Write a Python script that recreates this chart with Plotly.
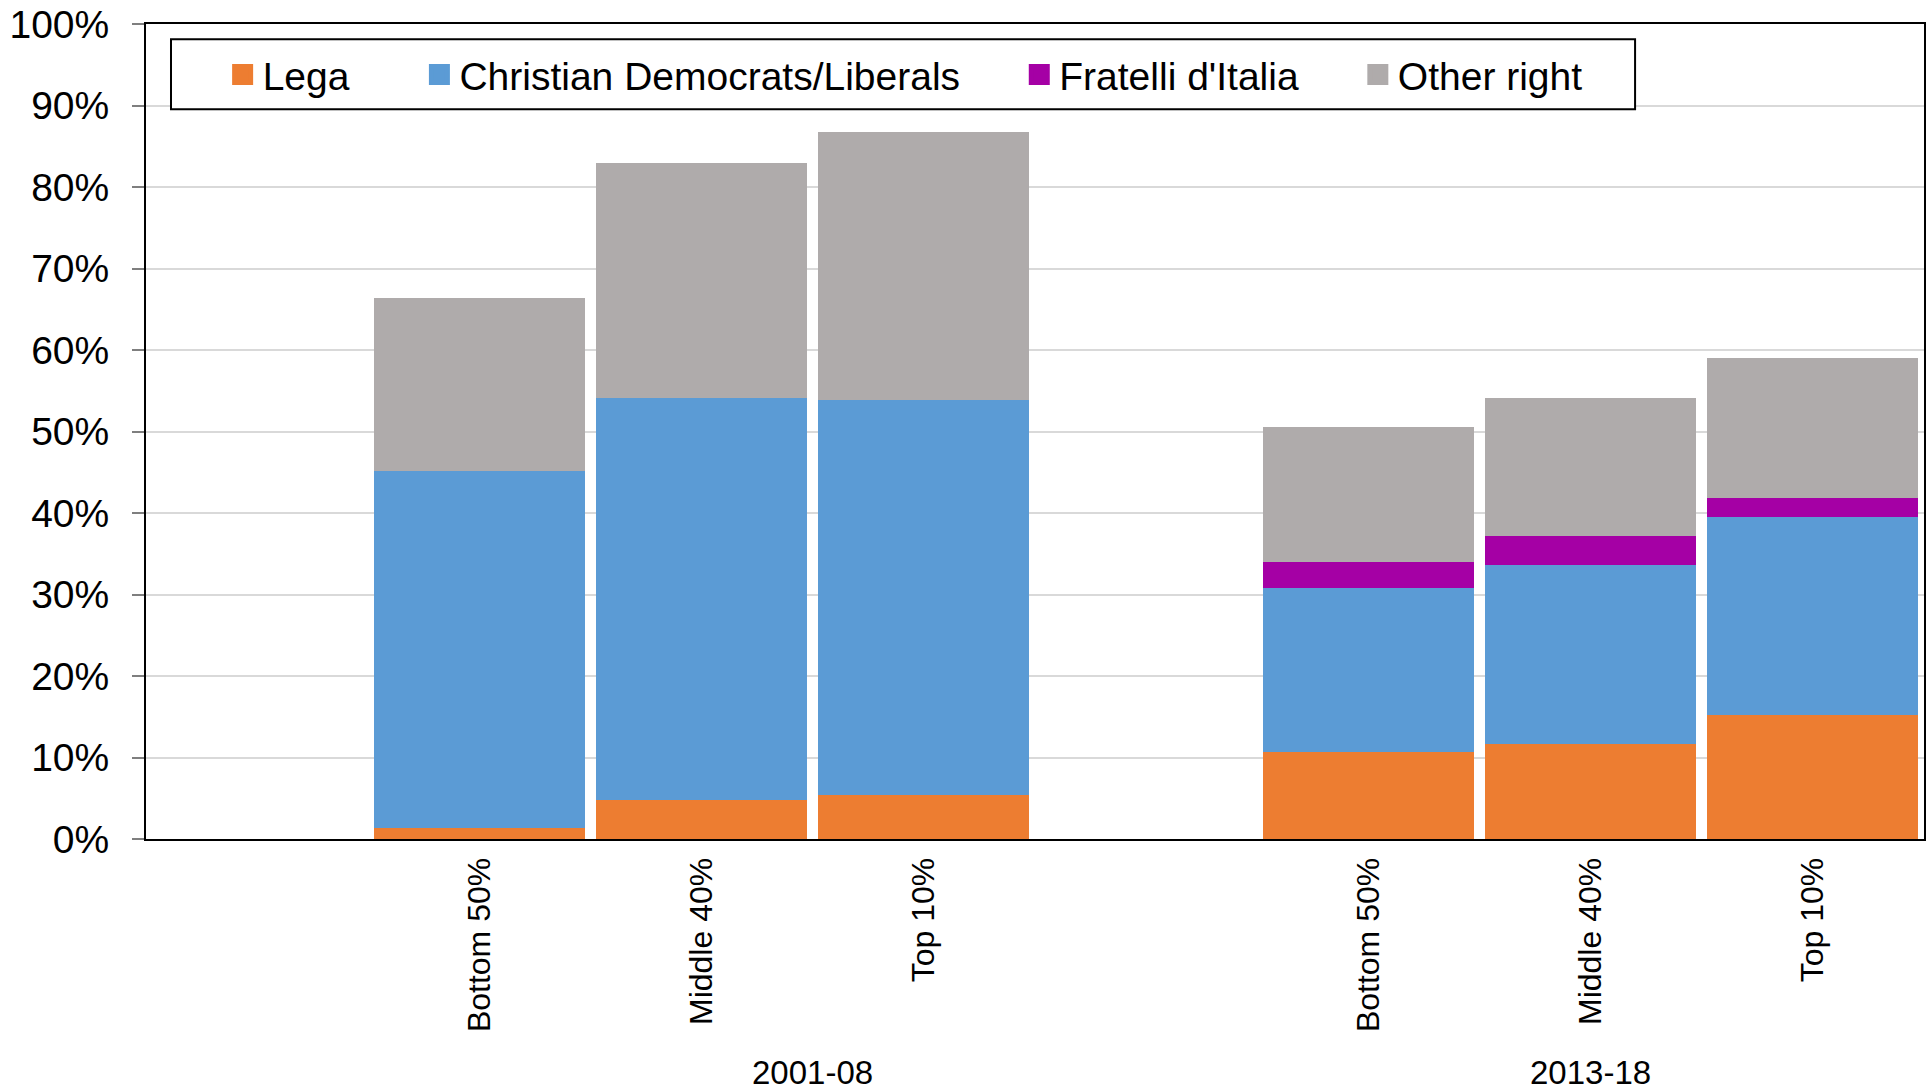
import plotly.graph_objects as go

# ---- data ----
categories = ["", "Bottom 50%", "Middle 40%", "Top 10%", "", "Bottom 50%", "Middle 40%", "Top 10%"]
periods = ["", "2001-08", "2001-08", "2001-08", "2001-08", "2013-18", "2013-18", "2013-18"]

lega = [None, 1.3, 4.8, 5.4, None, 10.7, 11.65, 15.2]
christian_dem = [None, 43.9, 49.3, 48.45, None, 20.15, 22.0, 24.35]
fratelli = [None, 0, 0, 0, None, 3.1, 3.55, 2.25]
other_right = [None, 21.2, 28.8, 32.85, None, 16.65, 16.95, 17.25]

series_names = ["Lega", "Christian Democrats/Liberals", "Fratelli d'Italia", "Other right"]
series_values = [lega, christian_dem, fratelli, other_right]
series_colors = ["#ED7D31", "#5B9BD5", "#A500A5", "#AFABAB"]
legend_pad = [6, 5, 5, 0]  # trailing spacing in legend entries

y_ticks = list(range(0, 101, 10))
y_ticktext = [f"{v}%" for v in y_ticks]

FONT = "Liberation Sans, Arial, sans-serif"

slots = list(range(len(categories)))

fig = go.Figure()
for name, vals, col in zip(series_names, series_values, series_colors):
    fig.add_trace(go.Bar(
        x=slots, y=vals, name=name, marker=dict(color=col, line=dict(width=0)),
        showlegend=False,
    ))

# legend proxies (square symbols)
for name, col, pad in zip(series_names, series_colors, legend_pad):
    fig.add_trace(go.Scatter(
        x=[None], y=[None], mode="markers", name=name + "\u00a0" * pad,
        marker=dict(symbol="square", size=16, color=col, line=dict(width=5, color=col)),
        showlegend=True,
    ))

# group labels under the category labels
groups = []
for p in periods:
    if p and p not in groups:
        groups.append(p)
annotations = []
for g in groups:
    idx = [i for i, p in enumerate(periods) if p == g]
    annotations.append(dict(
        x=sum(idx) / len(idx), y=-0.2865, xref="x", yref="paper",
        text=g, showarrow=False, yanchor="middle", xanchor="center",
        font=dict(family=FONT, size=33, color="black"),
    ))

fig.update_layout(
    width=1926, height=1091,
    margin=dict(l=146, r=2, t=24, b=252, autoexpand=False),
    paper_bgcolor="white", plot_bgcolor="white",
    barmode="stack", bargap=0.05,
    font=dict(family=FONT, color="black"),
    annotations=annotations,
    shapes=[dict(
        type="rect", xref="paper", yref="paper",
        x0=0.01406, x1=0.8375, y0=0.8953, y1=0.9812,
        line=dict(color="black", width=2), fillcolor="white", layer="above",
    )],
    legend=dict(
        orientation="h", x=0.0431, xanchor="left", y=0.938, yanchor="middle",
        bgcolor="rgba(0,0,0,0)", borderwidth=0, traceorder="normal",
        font=dict(family=FONT, size=39, color="black"),
        itemwidth=30,
    ),
)

fig.update_xaxes(
    tickmode="array", tickvals=slots, ticktext=categories,
    tickangle=-90, tickfont=dict(family=FONT, size=32, color="black"),
    range=[-0.5, len(categories) - 0.5],
    showline=True, linecolor="black", linewidth=2, mirror=True,
    showgrid=False, ticks="", ticklabelstandoff=4, zeroline=False,
    automargin=False,
)
fig.update_yaxes(
    range=[0, 100], tickmode="array", tickvals=y_ticks, ticktext=y_ticktext,
    tickfont=dict(family=FONT, size=39, color="black"),
    showline=True, linecolor="black", linewidth=2, mirror=True,
    showgrid=True, gridcolor="#D9D9D9", gridwidth=2,
    ticks="outside", ticklen=12, tickcolor="#7F7F7F", tickwidth=1.5,
    ticklabelstandoff=15, zeroline=False, automargin=False,
)

fig.write_html(
    "out.html",
    config={"displayModeBar": False},
    post_script="document.body.style.margin='0';document.body.style.overflow='hidden';",
)
